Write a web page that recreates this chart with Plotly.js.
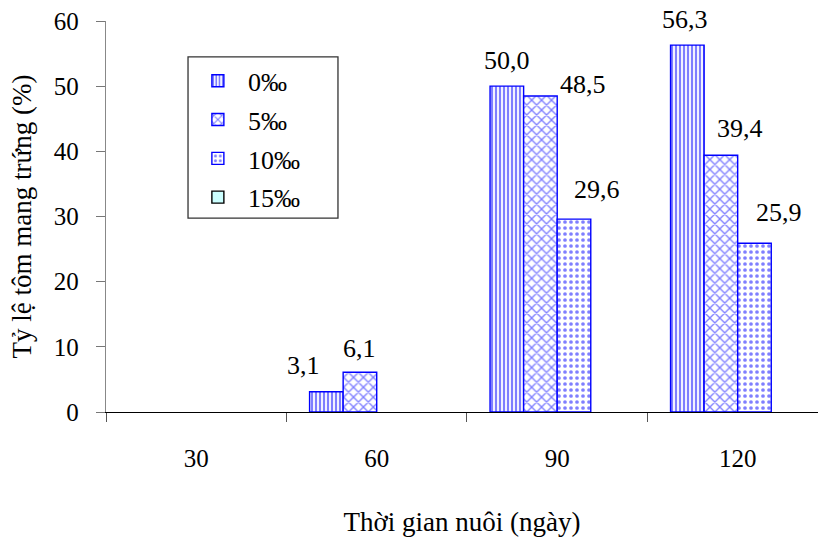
<!DOCTYPE html>
<html>
<head>
<meta charset="utf-8">
<script src="https://cdn.plot.ly/plotly-3.0.1.min.js"></script>
<style>html,body{margin:0;padding:0;background:#fff;}#chart{width:818px;height:538px;}</style>
</head>
<body>
<div id="chart"></div>
<script>
// ---- data ----
const categories = ["30", "60", "90", "120"];
const seriesNames = ["0‰", "5‰", "10‰", "15‰"];
const s0 = [null, 3.1, 50.0, 56.3];
const s5 = [null, 6.1, 48.5, 39.4];
const s10 = [null, 0, 29.6, 25.9];
const s15 = [null, 0, 0, 0];
const yTickVals = [0, 10, 20, 30, 40, 50, 60];
const xTitle = "Thời gian nuôi (ngày)";
const yTitle = "Tỷ lệ tôm mang trứng (%)";

// ---- styling ----
const FONT = "Liberation Serif";
const seriesValues = [s0, s5, s10, s15];
const styles = [
  {shape: "|", bg: "#ffffff", fg: "#0000ff", size: 4, sol: 0.55, line: "#0000ff"},
  {shape: "x", bg: "#ffffff", fg: "#0000ff", size: 7, sol: 0.35, line: "#0000ff"},
  {shape: ".", bg: "#ffffff", fg: "#0000ff", size: 6, sol: 0.3, line: "#0000ff"},
  {shape: "", bg: "#ccffff", fg: "#000000", size: 6, sol: 0.3, line: "#000000"}
];
const BARGAP = 0.256;
// legend frame in paper coordinates
const LEGEND_BOX = {x0: 0.1152, x1: 0.3258, y0: 0.496, y1: 0.908};
// label nudges in pixels (per series, per category), for the value labels
const labelShift = {
  "0-1": [-23, 10], "1-1": [0, 7],
  "0-2": [0, 9], "1-2": [43, -5], "2-2": [23, 13],
  "0-3": [-2, 9], "1-3": [19, 10], "2-3": [25, 14]
};

const traces = seriesValues.map((vals, i) => ({
  type: "bar",
  name: seriesNames[i],
  legendgroup: "g" + i,
  x: categories,
  y: vals,
  marker: {
    color: styles[i].bg,
    line: {color: styles[i].line, width: vals.map(v => v === 0 ? 0 : 1.4)},
    pattern: {shape: styles[i].shape, fgcolor: styles[i].fg, bgcolor: styles[i].bg,
              size: styles[i].size, solidity: styles[i].sol, fillmode: "overlay"}
  },
  hoverinfo: "none"
}));

const barW = (1 - BARGAP) / seriesValues.length;
const annotations = [];
seriesValues.forEach((vals, i) => {
  vals.forEach((v, c) => {
    const key = i + "-" + c;
    if (v === null || v === 0 || !(key in labelShift)) return;
    annotations.push({
      x: c + (i - (seriesValues.length - 1) / 2) * barW,
      y: v, xref: "x", yref: "y",
      text: v.toFixed(1).replace(".", ","),
      showarrow: false, yanchor: "bottom", xanchor: "center",
      xshift: labelShift[key][0], yshift: labelShift[key][1],
      font: {family: FONT, size: 26, color: "#000"}
    });
  });
});

const layout = {
  width: 818, height: 538,
  margin: {l: 106, r: 0, t: 21, b: 126},
  paper_bgcolor: "#fff", plot_bgcolor: "#fff",
  barmode: "group", bargap: BARGAP, bargroupgap: 0,
  font: {family: FONT, color: "#000"},
  showlegend: true,
  legend: {
    x: 0.115, y: 0.907, xanchor: "left", yanchor: "top",
    bgcolor: "rgba(0,0,0,0)", borderwidth: 0,
    font: {family: FONT, size: 26, color: "#000"},
    traceorder: "grouped", itemwidth: 50, tracegroupgap: 2
  },
  shapes: [{
    type: "rect", xref: "paper", yref: "paper",
    x0: LEGEND_BOX.x0, x1: LEGEND_BOX.x1, y0: LEGEND_BOX.y0, y1: LEGEND_BOX.y1,
    line: {color: "#333", width: 1.3}, fillcolor: "#fff", layer: "below"
  }],
  xaxis: {
    type: "category",
    range: [-0.5, 3.445],
    tickson: "boundaries",
    ticks: "outside", ticklen: 9, tickcolor: "#555", tickwidth: 1,
    ticklabelstandoff: 24,
    showline: true, linecolor: "#000", linewidth: 1.3,
    showgrid: false, zeroline: false,
    tickfont: {family: FONT, size: 25, color: "#000"},
    title: {text: xTitle, font: {family: FONT, size: 27, color: "#000"}, standoff: 40}
  },
  yaxis: {
    range: [0, 60],
    tickvals: yTickVals,
    ticks: "outside", ticklen: 9, tickcolor: "#777", tickwidth: 1,
    ticklabelstandoff: 12,
    showline: true, linecolor: "#888", linewidth: 1.3,
    showgrid: false, zeroline: false,
    tickfont: {family: FONT, size: 25, color: "#000"},
    title: {text: yTitle, font: {family: FONT, size: 27, color: "#000"}, standoff: 14}
  },
  annotations: annotations
};

Plotly.newPlot("chart", traces, layout, {staticPlot: true, displayModeBar: false});
</script>
</body>
</html>
